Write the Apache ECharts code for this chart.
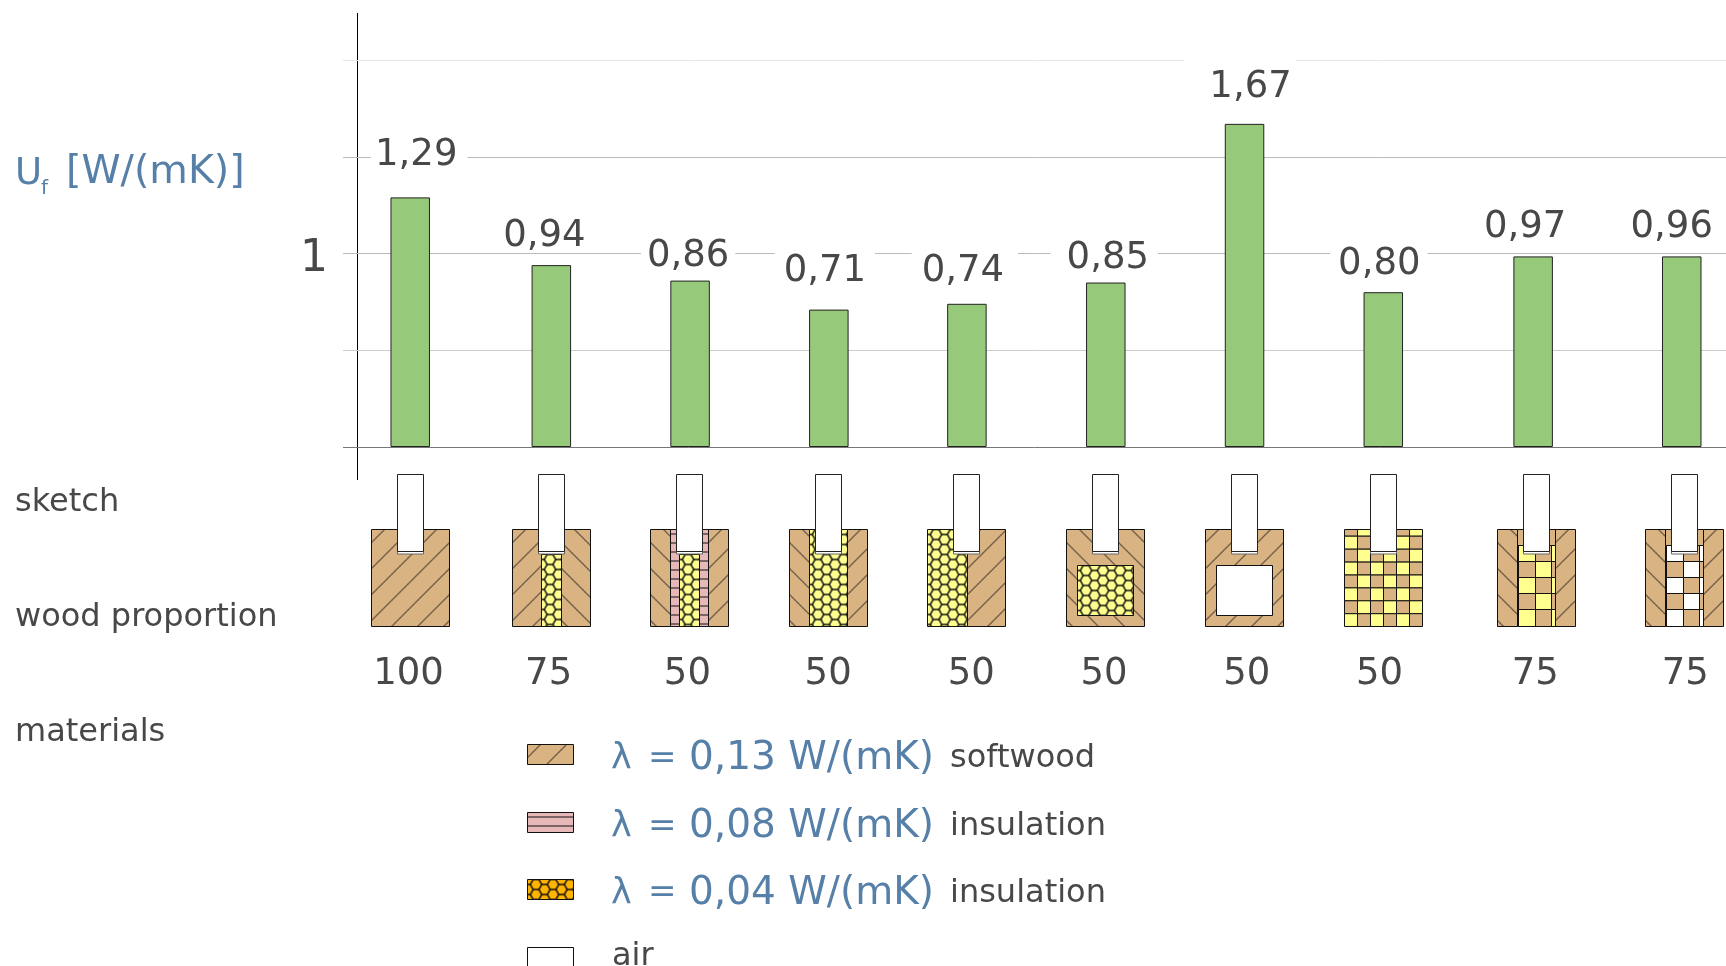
<!DOCTYPE html>
<html>
<head>
<meta charset="utf-8">
<title>Uf</title>
<script src="https://cdn.jsdelivr.net/npm/echarts@6/dist/echarts.min.js"></script>
<style>
html, body { margin: 0; padding: 0; background: #fff; }
#chart { width: 1726px; height: 966px; }
</style>
</head>
<body>
<div id="chart"></div>
<script>
// values
var valueLabels = ['1,29', '0,94', '0,86', '0,71', '0,74', '0,85', '1,67', '0,80', '0,97', '0,96'];
var barValues = [1.29, 0.94, 0.86, 0.71, 0.74, 0.85, 1.67, 0.80, 0.985, 0.985];
var woodProportion = ['100', '75', '50', '50', '50', '50', '50', '50', '75', '75'];
var yTicks = [0, 0.5, 1, 1.5, 2];
var yTickLabels = ['', '', '1', '', ''];
var legendLambda = ['0,13 W/(mK)', '0,08 W/(mK)', '0,04 W/(mK)', ''];
var legendNames = ['softwood', 'insulation', 'insulation', 'air'];
var rowTitles = ['sketch', 'wood proportion', 'materials'];

// the frames are not evenly spaced, slot 1 = one frame pitch
var barSlots = [0.005, 1.022, 2.022, 3.022, 4.017, 5.018, 6.018, 7.018, 8.098, 9.169];
var frameSlots = [0, 1.017, 2.017, 3.017, 4.012, 5.013, 6.013, 7.013, 8.12, 9.187];

// label layout: shift from the bar centre / bar top, and the white box around some labels
var labelShift = [[6, -21], [-7, -8], [-2, -3], [-4, -17], [-4, -11], [2, -3], [6, -15], [-4, -7], [-8, -8], [-10, -8]];
var labelBox = [[4, 10], null, [6, 6], [9, 9], [10, 14], [16, 9], [25, 4], [8, 7], null, null];
var proportionShift = [-1, -2, -2, 0, 5, -1, 3, -3, -1, 1];

var FONT = '"DejaVu Sans"';
var TEXT = '#484848';
var BLUE = '#5680a8';
var WOOD = '#d9b382';
var YELLOW = '#ffff8f';
var PINK = '#e6b9b8';
var ORANGE = '#ffb400';

function newTile(w, h, bg) {
    var c = document.createElement('canvas');
    c.width = w;
    c.height = h;
    var ctx = c.getContext('2d');
    ctx.fillStyle = bg;
    ctx.fillRect(0, 0, w, h);
    ctx.strokeStyle = '#111';
    ctx.lineWidth = 1;
    return { canvas: c, ctx: ctx };
}

function hatchTile(rising) {
    var t = newTile(26, 26, WOOD);
    [-13, 13, 39].forEach(function (k) {
        t.ctx.beginPath();
        if (rising) {
            t.ctx.moveTo(-4, k + 4);
            t.ctx.lineTo(k + 4, -4);
        } else {
            t.ctx.moveTo(-4, k - 4);
            t.ctx.lineTo(30, k + 30);
        }
        t.ctx.stroke();
    });
    return { image: t.canvas, repeat: 'repeat' };
}

function hexTile(bg) {
    var w = 17, h = 10, r = w / 3;
    var t = newTile(w, h, bg);
    t.ctx.lineWidth = 1.2;
    for (var i = -1; i < 4; i++) {
        for (var j = -1; j < 3; j++) {
            var x = i * w / 2, y = j * h + (i % 2 !== 0 ? h / 2 : 0);
            t.ctx.beginPath();
            t.ctx.moveTo(x - r, y);
            t.ctx.lineTo(x - r / 2, y - h / 2);
            t.ctx.lineTo(x + r / 2, y - h / 2);
            t.ctx.lineTo(x + r, y);
            t.ctx.lineTo(x + r / 2, y + h / 2);
            t.ctx.lineTo(x - r / 2, y + h / 2);
            t.ctx.closePath();
            t.ctx.stroke();
        }
    }
    return { image: t.canvas, repeat: 'repeat' };
}

function brickTile() {
    var t = newTile(4, 9, PINK);
    t.ctx.beginPath();
    t.ctx.moveTo(0, 4.5);
    t.ctx.lineTo(4, 4.5);
    t.ctx.stroke();
    return { image: t.canvas, repeat: 'repeat' };
}

var fills = {
    up: hatchTile(true),
    down: hatchTile(false),
    hex: hexTile(YELLOW),
    hexOrange: hexTile(ORANGE),
    brick: brickTile(),
    wood: WOOD,
    yellow: YELLOW,
    white: '#ffffff'
};

// whole frame wood and yellow checker
function fullChecker() {
    var parts = [];
    var ys = [0, 6.7, 19.7, 32.6, 45.5, 58.4, 71.3, 84.2, 97];
    for (var r = 0; r < 8; r++) {
        for (var c = 0; c < 6; c++) {
            parts.push([c * 13, ys[r], 13, ys[r + 1] - ys[r], (r + c) % 2 ? 'yellow' : 'wood']);
        }
    }
    return parts;
}

// hatched sides with a small checker core
function coreChecker(fill) {
    var parts = [[0, 0, 20, 97, 'down'], [58, 0, 20, 97, 'up'], [20, 0, 38, 16, 'wood'], [20, 16, 38, 81, fill]];
    var xs = [21, 38, 54, 58];
    var ys = [16, 32, 48, 64, 80, 97];
    for (var r = 0; r < 5; r++) {
        for (var c = 0; c < 3; c++) {
            parts.push([xs[c], ys[r], xs[c + 1] - xs[c], ys[r + 1] - ys[r], (r + c) % 2 ? 'wood' : fill]);
        }
    }
    return parts;
}

// frame cross sections, box is 78 x 97: [x, y, w, h, fill]
var frameParts = [
    [[0, 0, 78, 97, 'up']],
    [[0, 0, 29, 97, 'up'], [49, 0, 29, 97, 'down'], [29, 25, 20, 72, 'hex']],
    [[0, 0, 20, 97, 'down'], [58, 0, 20, 97, 'up'], [20, 0, 38, 97, 'brick'], [29, 25, 20, 72, 'hex']],
    [[0, 0, 20, 97, 'down'], [58, 0, 20, 97, 'up'], [20, 0, 38, 97, 'hex']],
    [[40, 0, 38, 97, 'up'], [0, 0, 40, 97, 'hex']],
    [[0, 0, 78, 97, 'down'], [11, 36, 56, 50, 'hex']],
    [[0, 0, 78, 97, 'up'], [11, 36, 56, 50, 'white']],
    fullChecker(),
    coreChecker('yellow'),
    coreChecker('white')
];

function part(x, y, w, h, fill, stroke) {
    return {
        type: 'rect',
        x: x,
        y: y,
        shape: { x: 0, y: 0, width: w, height: h },
        style: { fill: fill, stroke: stroke || '#111', lineWidth: 1 }
    };
}

function renderFrame(params, api) {
    var i = params.dataIndex;
    var base = api.coord([api.value(0), 0]);
    var x0 = Math.round(base[0] - 39) + 0.5;
    var y0 = Math.round(base[1] + 82) + 0.5;
    var children = frameParts[i].map(function (p) {
        return part(x0 + p[0], y0 + p[1], p[2], p[3], fills[p[4]]);
    });
    // sash on top of the frame
    children.push(part(x0 + 26, y0 + 20, 26, 4.5, '#ffffff', '#666'));
    children.push(part(x0 + 26, y0 - 55, 26, 77, '#ffffff', '#222'));
    children.push({
        type: 'text',
        x: base[0] + proportionShift[i],
        y: y0 + 145,
        style: { text: woodProportion[i], fontFamily: FONT, fontSize: 37, fill: TEXT, align: 'center', verticalAlign: 'middle' }
    });
    return { type: 'group', children: children };
}

function txt(x, y, text, size, color) {
    return {
        type: 'text',
        x: x,
        y: y,
        style: { text: text, fontFamily: FONT, fontSize: size, fill: color || TEXT, align: 'left', verticalAlign: 'middle' }
    };
}

function swatch(x, y, w, h, fill) {
    return {
        type: 'rect',
        x: x,
        y: y,
        shape: { x: 0, y: 0, width: w, height: h },
        style: { fill: fill, stroke: '#111', lineWidth: 1 }
    };
}

var legendY = [755, 823, 889.5, 958];
var titleY = [502.5, 617.5, 732.5];
var graphics = [
    { type: 'line', shape: { x1: 357.5, y1: 13, x2: 357.5, y2: 480 }, style: { stroke: '#000', lineWidth: 1 } },
    txt(15, 174, 'U', 37, BLUE),
    txt(41, 189, 'f', 20, BLUE),
    txt(66, 173, '[W/(mK)]', 39.6, BLUE)
];
rowTitles.forEach(function (t, i) {
    graphics.push(txt(15, titleY[i], t, 32));
});
var legendFill = [fills.up, fills.brick, fills.hexOrange, fills.white];
legendNames.forEach(function (n, i) {
    var top = Math.round(legendY[i] - 11) + 0.5;
    var textY = legendY[i] + 4;
    graphics.push(swatch(527.5, top, 46, 20, legendFill[i]));
    if (legendLambda[i]) {
        graphics.push(txt(611, textY, '\u03bb', 35, BLUE));
        graphics.push(txt(648, textY, '=', 34, BLUE));
        graphics.push(txt(689, textY, legendLambda[i], 39, BLUE));
        graphics.push(txt(950, textY, n, 32));
    } else {
        graphics.push(txt(612, textY - 5, n, 32));
    }
});

var myChart = echarts.init(document.getElementById('chart'));
myChart.setOption({
    animation: false,
    backgroundColor: '#ffffff',
    grid: { left: 343, right: 0, top: 60, bottom: 519 },
    xAxis: {
        type: 'value',
        min: -0.4795,
        max: 9.488,
        show: false
    },
    yAxis: {
        type: 'value',
        min: 0,
        max: 2,
        interval: 0.5,
        axisLine: { show: false },
        axisTick: { show: false },
        splitLine: { lineStyle: { color: ['#777777', '#cccccc', '#bbbbbb', '#bbbbbb', '#e6e6e6'], width: 1 } },
        axisLabel: {
            margin: 15,
            fontFamily: FONT,
            fontSize: 44,
            color: TEXT,
            verticalAlign: 'top',
            lineHeight: 12,
            formatter: function (v) {
                return yTickLabels[yTicks.indexOf(v)];
            }
        }
    },
    series: [
        {
            type: 'bar',
            barWidth: 39.5,
            itemStyle: { color: '#97c97a', borderColor: '#222', borderWidth: 1 },
            data: barValues.map(function (v, i) {
                var box = labelBox[i];
                var shift = labelShift[i];
                // the box padding moves the text, take that back out
                var dx = box ? shift[0] - (box[0] - box[1]) / 2 : shift[0];
                return {
                    value: [barSlots[i], v],
                    label: {
                        show: true,
                        position: 'top',
                        distance: 0,
                        formatter: valueLabels[i],
                        offset: [dx, shift[1]],
                        fontFamily: FONT,
                        fontSize: 37,
                        lineHeight: 42,
                        color: TEXT,
                        backgroundColor: box ? '#ffffff' : 'transparent',
                        padding: box ? [9, box[1], 0, box[0]] : 0
                    }
                };
            })
        },
        {
            type: 'custom',
            renderItem: renderFrame,
            data: frameSlots.map(function (s) {
                return [s, 0];
            }),
            encode: { x: 0, y: 1 },
            silent: true
        }
    ],
    graphic: graphics
});
</script>
</body>
</html>
